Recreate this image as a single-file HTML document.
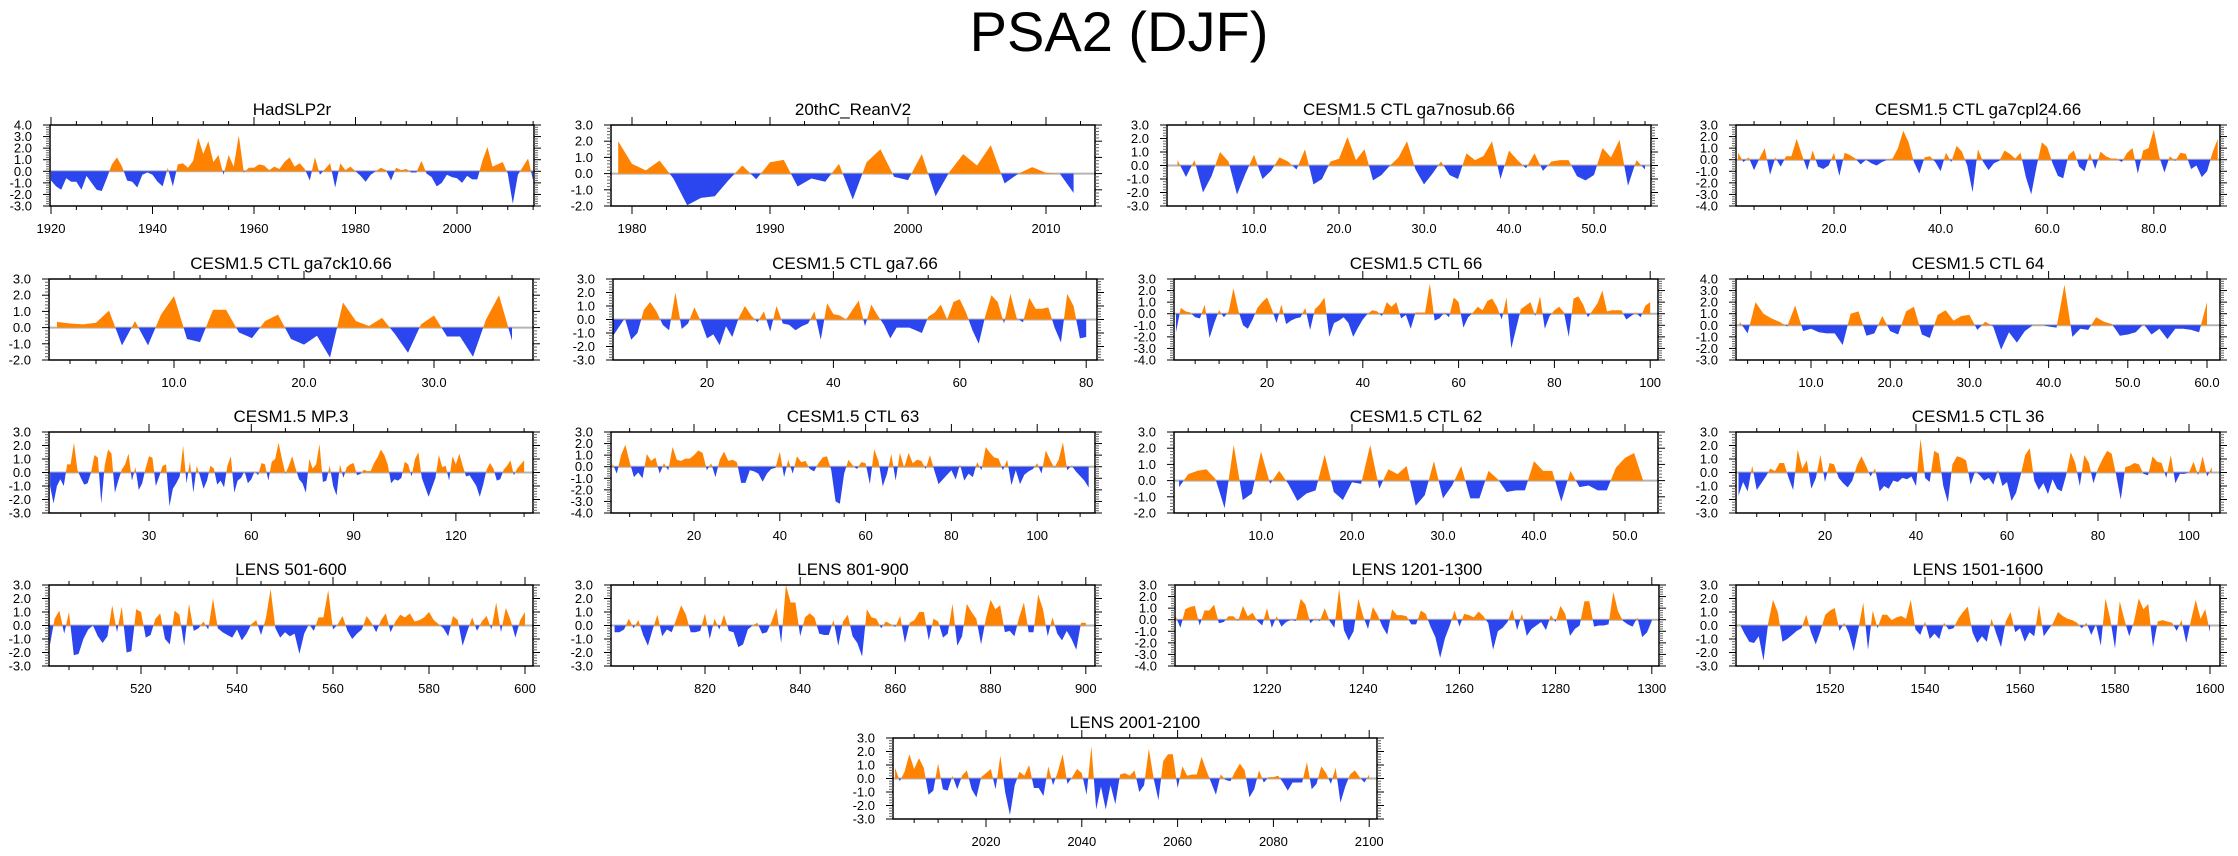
<!DOCTYPE html>
<html>
<head>
<meta charset="utf-8">
<style>
html,body{margin:0;padding:0;background:#fff;}
svg{display:block;font-family:"Liberation Sans",Arial,sans-serif;}
</style>
</head>
<body>
<svg id="chart" width="2238" height="856" viewBox="0 0 2238 856" xmlns="http://www.w3.org/2000/svg">
<rect x="0" y="0" width="2238" height="856" fill="#ffffff"/>
<text x="1119" y="51" text-anchor="middle" font-size="56" fill="#000">PSA2 (DJF)</text>
</svg>
<script>
// ---- data arrays ----
const hadslp2rStart = 1920;
const hadslp2rVals = [-0.8,-1.3,-1.6,-0.6,-0.9,-0.9,-1.6,-0.4,-1.0,-1.6,-1.7,-0.6,0.6,1.2,0.4,-0.8,-0.9,-1.4,-0.3,-0.1,-0.3,-0.9,-1.3,0.3,-1.3,0.6,0.7,0.3,0.9,2.9,1.5,2.6,0.8,1.4,-0.3,1.4,0.4,3.1,-0.1,0.3,0.3,0.6,0.5,0.1,0.4,0.2,0.8,1.2,0.4,0.7,0.2,-0.8,1.2,-0.3,0.2,0.7,-1.4,0.7,0.1,0.4,0.0,-0.4,-0.9,-0.3,0.0,0.3,0.1,-0.8,0.3,0.1,0.2,-0.1,-0.1,0.9,-0.2,-0.5,-1.3,-1.0,-0.3,-0.5,-0.6,-1.0,-0.4,-0.7,-0.7,0.9,2.1,0.4,0.6,0.8,-0.2,-2.8,-0.3,0.4,1.1,-0.8];
const reanv2Start = 1979;
const reanv2Vals = [2.0,0.6,0.2,0.8,-0.3,-1.95,-1.5,-1.4,-0.4,0.5,-0.35,0.7,0.85,-0.8,-0.3,-0.5,0.6,-1.6,0.7,1.5,-0.2,-0.4,1.2,-1.4,0.1,1.2,0.5,1.75,-0.6,0.0,0.4,0.05,0.0,-1.2];
const nosubStart = 1;
const nosubVals = [0.4,-0.85,0.4,-2.0,-0.8,1.0,0.3,-2.15,-0.6,0.8,-1.0,-0.4,0.6,0.3,-0.3,1.2,-1.4,-1.0,0.3,0.5,2.1,0.4,1.2,-1.1,-0.7,0.0,0.6,1.8,-0.3,-1.4,-0.6,0.3,-0.7,-1.0,0.9,0.4,0.7,1.8,-1.0,1.1,0.4,-0.2,0.9,-0.4,0.3,0.4,0.4,-0.8,-1.1,-0.7,1.3,0.6,1.9,-1.5,0.4,-0.3];
const cpl24Start = 2;
const cpl24Vals = [0.6,-0.2,0.2,-0.9,0.1,1.0,-1.3,0.2,-0.6,0.3,0.3,1.8,0.4,-0.9,0.8,-0.6,-0.8,-0.5,0.6,-1.4,0.6,0.4,0.1,-0.4,0.0,-0.3,-0.5,-0.2,0.0,0.1,1.0,2.5,1.5,-0.2,-1.2,0.2,0.3,-0.2,-1.0,0.6,-0.2,1.2,0.7,-0.5,-2.8,0.9,-0.2,-0.9,-0.3,-0.1,0.8,0.5,0.1,0.6,-1.5,-3.0,-0.6,1.5,1.1,-0.3,-1.4,-1.6,0.4,0.8,-0.6,-1.0,0.6,-0.8,0.7,0.3,0.1,0.1,-0.2,0.6,1.0,-1.2,0.8,1.0,2.6,0.3,-1.1,0.3,-0.1,0.6,0.5,-0.8,-0.5,-1.5,-1.0,0.6,1.8];
const ck10Start = 1;
const ck10Vals = [0.35,0.25,0.2,0.3,1.05,-1.1,0.4,-1.1,0.8,1.95,-0.7,-0.9,1.1,1.1,-0.3,-0.65,0.4,0.8,-0.7,-1.05,-0.5,-1.85,1.55,0.4,0.1,0.6,-0.4,-1.55,0.2,0.75,-0.55,-0.55,-1.8,0.5,2.0,-0.8];
const ga7Start = 5;
const ga7Vals = [-1.3,-0.6,0.1,-1.5,-1.0,0.7,1.3,0.6,-0.4,-0.8,2.0,-0.7,-0.3,0.9,-0.1,-1.4,-1.1,-1.9,-0.5,-1.3,0.1,1.0,0.3,-0.2,0.6,-0.9,1.0,-0.3,-0.4,-0.8,-0.5,-0.3,0.6,-1.5,1.2,0.4,0.3,0.0,0.7,1.4,-0.5,1.1,0.3,-0.4,-1.4,-0.6,-0.6,-0.6,-0.8,-1.0,0.2,0.5,1.1,0.0,1.3,1.5,0.5,-0.8,-1.8,0.2,1.8,1.3,-0.3,1.9,0.1,-0.2,1.6,0.8,0.8,0.9,-0.6,-1.7,1.9,1.0,-1.4,-1.3];
const ctl66Start = 1;
const ctl66Vals = [-1.6,0.5,0.2,0.1,-0.3,-0.4,0.8,-2.1,-0.8,0.3,-0.3,0.2,2.2,0.3,-1.0,-1.3,-0.5,0.5,1.0,1.4,0.4,-0.8,0.8,-0.9,-0.6,-0.4,-0.3,0.5,-1.4,0.4,0.8,1.4,-2.0,-0.8,-0.6,-0.3,-0.8,-2.0,-1.2,-0.5,0.0,0.3,0.2,-0.2,1.0,0.6,1.0,-0.4,-0.1,-1.3,0.1,0.1,0.1,2.6,-0.6,-0.4,0.1,-0.3,1.4,1.0,-1.2,-0.3,0.1,0.6,0.3,1.1,1.3,0.6,-0.5,1.4,-3.0,-1.3,0.4,0.7,1.0,-0.2,1.5,-1.3,-0.2,0.3,0.6,0.1,-2.0,1.3,1.5,0.8,-0.3,0.3,0.9,2.0,0.2,0.3,0.3,0.3,-0.5,-0.2,0.1,-0.3,0.7,1.0];
const ctl64Start = 1;
const ctl64Vals = [0.3,-0.7,2.0,1.0,0.6,0.3,-0.1,1.7,-0.5,-0.3,-0.6,-0.7,-0.7,-1.7,1.0,1.2,-0.9,-0.7,0.8,-0.5,-0.8,1.2,1.6,-0.8,-1.1,0.9,1.3,0.4,0.8,0.9,-0.4,0.3,-0.1,-2.1,-0.6,-1.5,-0.5,0.0,0.05,-0.1,-0.2,3.5,-1.0,-0.3,-0.4,0.7,0.3,0.1,-0.9,-0.8,-0.6,0.1,-0.8,-0.3,-1.2,-0.3,-0.3,-0.4,-0.6,2.0];
const mp3Start = 1;
const mp3Vals = [-1.0,-2.3,-1.0,-0.5,-1.0,0.6,0.6,2.2,0.2,-0.4,-0.9,-0.8,0.0,1.3,1.1,-2.3,0.5,1.7,1.4,-1.5,-0.6,0.2,0.6,1.4,-0.6,0.4,-1.3,-0.8,0.3,1.2,1.1,-1.0,-0.3,0.5,0.6,-2.5,-1.2,-0.8,-0.3,2.0,-0.8,0.8,-1.5,0.5,-0.3,-1.2,-0.6,0.5,0.3,-0.9,-0.6,-1.1,0.5,1.2,-1.5,-0.6,-0.4,0.1,-0.8,-0.5,0.1,-0.2,0.7,0.6,-0.6,0.8,1.0,2.2,1.0,-0.1,0.5,1.2,0.3,-0.5,-0.8,-1.5,1.0,0.3,0.6,2.1,-0.7,-0.6,0.5,-1.0,-1.7,0.6,-0.4,0.4,0.6,0.7,-0.2,-0.1,0.2,0.1,0.1,0.7,1.1,1.7,1.3,0.6,-0.8,-0.5,-0.6,-0.4,0.8,0.6,-0.3,1.0,1.5,-0.4,-1.1,-1.8,-1.1,-0.4,1.3,0.4,0.5,-0.6,1.2,0.6,1.4,0.5,-0.3,-0.2,-0.6,-1.0,-1.8,-0.9,0.2,0.7,0.3,-0.6,-0.5,0.2,0.5,0.9,-0.2,0.3,0.6,0.9];
const ctl63Start = 1;
const ctl63Vals = [0.3,-0.6,1.0,1.9,0.4,-0.9,-0.5,-1.0,1.1,0.5,0.8,-0.6,0.3,-0.3,1.7,0.6,0.5,0.7,0.7,1.0,1.4,1.2,-0.3,0.3,-0.9,0.6,1.3,0.5,0.6,0.4,-1.4,-1.4,-0.3,-0.4,-0.6,-1.3,-0.6,-0.2,-0.1,1.3,-0.9,0.6,-0.6,0.9,0.4,0.5,-0.2,-0.4,0.3,0.8,0.9,-0.3,-3.0,-3.2,-0.6,0.6,0.1,-0.2,0.4,0.3,-1.5,1.5,0.5,-1.7,-0.6,1.1,-1.2,1.2,-0.1,1.2,0.3,0.6,0.5,-0.2,1.0,-0.3,-1.5,-1.1,-0.7,-0.3,-1.1,0.2,-1.2,-0.6,-0.9,0.4,-0.3,1.7,1.2,0.8,0.7,-0.3,0.6,-1.6,-0.3,-1.5,-0.7,-0.4,-0.2,0.3,-0.6,1.4,0.6,-0.1,0.6,2.1,-0.3,0.1,-0.4,-0.8,-1.2,-1.8];
const ctl62Start = 1;
const ctl62Vals = [-0.4,0.4,0.6,0.7,0.1,-1.7,2.2,-1.2,-0.8,1.8,-0.2,0.6,-0.2,-1.25,-0.8,-0.6,1.6,-0.7,-1.2,-0.1,-0.2,2.2,-0.5,0.7,0.4,0.9,-1.55,-0.9,1.2,-1.1,-0.3,0.9,-1.1,-1.1,0.6,0.1,-0.7,-0.6,-0.6,1.2,0.6,0.6,-1.3,0.6,-0.4,-0.3,-0.6,-0.6,0.8,1.4,1.7,0.0];
const ctl36Start = 1;
const ctl36Vals = [-1.7,-0.7,-1.4,0.5,-1.3,-0.8,-0.3,0.3,0.1,0.7,0.7,-0.4,-1.3,1.7,0.3,0.9,-1.2,-0.4,1.3,-0.7,0.7,0.6,-0.4,-0.8,-1.1,-0.6,0.5,1.2,0.5,-0.3,0.3,-1.4,-1.0,-1.2,-0.6,-0.7,-0.4,-0.5,-0.3,-1.0,2.5,-0.4,-0.7,1.6,1.4,-1.0,-2.2,0.6,1.2,1.1,0.9,-0.9,0.1,-0.2,-0.6,-0.4,-0.9,0.2,-1.0,-0.7,-2.1,-1.5,-0.2,1.3,1.8,-0.6,-1.3,-0.8,-1.6,-0.5,-1.2,-1.4,-0.2,1.5,0.7,-1.0,1.3,0.7,-0.8,0.3,1.0,1.6,1.4,-0.2,-2.0,0.4,0.5,0.7,0.6,-0.1,-0.2,1.2,0.8,0.7,-0.4,1.3,-0.8,-0.1,-0.1,0.0,0.8,-0.2,1.2,-0.3,0.4];
const lens501Start = 501;
const lens501Vals = [-1.5,0.5,1.1,-0.6,1.0,-2.2,-2.1,-1.0,-0.3,0.0,-0.8,-1.3,-0.8,1.5,-0.5,1.4,-2.0,-1.9,1.2,1.0,-0.9,-0.7,0.5,0.9,-1.0,-1.4,1.1,0.8,-1.5,1.6,-0.4,-0.2,0.3,-0.3,2.0,-0.2,-0.5,-0.7,-0.9,-0.3,-1.1,-0.6,0.1,0.4,-0.7,0.5,2.7,-0.2,-0.9,-0.5,-0.8,-0.6,-2.1,-0.6,0.1,-0.4,0.6,0.6,2.6,-0.3,0.1,0.7,-0.4,-1.0,-0.6,-0.3,0.7,0.2,-0.5,0.4,0.9,-0.5,0.3,0.8,0.6,0.9,0.3,0.4,0.6,1.0,0.4,0.1,-0.2,-0.8,0.7,0.4,-1.5,-0.4,0.6,-0.4,0.3,0.7,-0.3,1.7,-0.5,1.3,0.4,-0.9,0.4,1.0];
const lens801Start = 801;
const lens801Vals = [-0.5,-0.5,-0.3,0.5,-0.2,0.4,-0.7,-1.5,-0.3,0.8,-0.8,-0.3,-0.5,0.5,1.5,0.8,-0.5,-0.5,-0.4,0.9,-1.0,0.5,-0.3,0.8,-0.4,-0.5,-1.6,-1.4,-0.3,0.0,0.2,-0.6,-0.5,0.3,1.3,-1.3,3.0,1.7,1.7,-0.8,0.6,0.9,0.6,-0.6,-0.7,-0.7,0.4,-1.5,0.3,0.8,-0.8,-1.3,-2.3,1.2,0.6,0.5,-0.2,0.3,0.1,-0.1,0.7,-1.3,0.2,0.4,1.0,1.0,-1.1,0.5,0.3,-0.9,-0.6,1.6,-1.5,-0.8,1.6,1.0,0.5,-1.4,0.5,1.9,1.2,1.5,-0.5,-0.4,-0.8,0.6,1.7,-0.5,-0.5,2.3,1.2,-0.8,0.6,-0.6,-1.1,-0.4,-1.0,-1.8,0.2,0.2];
const lens1201Start = 1201;
const lens1201Vals = [0.3,-0.7,0.9,1.1,1.2,-0.5,0.8,0.8,1.3,-0.3,-0.2,0.3,0.3,-0.1,1.2,0.3,0.6,-0.1,-0.5,1.0,-0.7,0.3,-0.6,-0.2,0.0,-0.1,1.8,1.3,-0.3,0.1,-0.1,1.0,-0.1,-0.7,2.7,-0.9,-1.8,-1.0,1.8,0.3,-0.8,1.1,0.4,-0.6,-1.3,0.9,0.4,0.4,0.3,-0.4,-0.4,0.8,0.5,-0.6,-1.5,-3.3,-1.6,-0.5,0.8,-0.6,0.5,0.4,0.2,0.7,0.3,-0.3,-2.6,-1.0,-0.7,-0.2,0.9,-0.9,0.5,-1.4,-0.8,-0.5,-0.2,-0.9,0.4,-0.2,1.2,0.5,-1.4,-0.8,-0.5,1.6,1.6,-0.6,-0.5,-0.5,-0.4,2.4,0.7,-0.1,-0.4,-0.6,0.2,-1.5,-1.1,-0.1];
const lens1501Start = 1501;
const lens1501Vals = [0.1,-0.6,-1.2,-1.3,-0.8,-2.6,0.2,1.9,1.0,-1.2,-1.0,-0.7,-0.4,-0.2,0.8,-0.5,-1.4,-0.4,0.8,1.1,1.3,-0.4,0.2,-0.6,-1.9,-0.2,1.7,-1.8,1.1,-0.2,0.8,0.8,0.4,0.6,0.7,0.5,1.9,-0.3,-0.7,0.3,-1.0,-0.6,-1.0,0.2,-0.3,-0.2,0.5,1.0,1.4,-0.5,-1.3,-0.8,-1.2,0.5,-0.6,-1.6,0.3,1.0,-0.5,-0.2,-1.2,-0.5,-0.8,1.5,-0.8,-0.3,0.2,1.0,0.7,0.5,0.4,0.2,-0.2,0.2,-0.7,0.1,-1.5,2.0,0.5,-1.7,1.8,0.4,-0.8,0.3,2.0,1.2,1.6,-1.6,0.3,0.4,0.3,0.2,-0.4,0.4,-1.3,0.4,1.9,0.5,1.2,-0.5];
const lens2001Start = 2001;
const lens2001Vals = [0.8,-0.2,0.5,1.8,0.7,1.5,0.8,-1.2,-0.9,1.1,-0.8,-0.9,0.2,-0.8,0.2,0.6,-0.8,-1.4,0.1,0.4,0.7,-0.8,1.7,-1.0,-2.7,-0.5,0.5,0.2,1.0,-0.7,-0.7,-1.3,0.9,-0.5,0.5,1.8,-0.4,0.1,0.7,0.4,-1.2,2.4,-2.3,-0.6,-2.3,-0.5,-1.9,0.3,0.4,0.2,0.6,-1.0,-0.5,2.2,0.0,-1.6,1.3,1.8,1.8,-0.7,0.9,0.2,0.3,0.3,1.6,0.6,-0.3,-1.2,0.3,-0.1,-0.2,0.5,1.1,0.6,-1.4,-0.8,0.6,-0.3,0.1,0.1,0.2,-0.3,-0.9,-0.3,-0.3,-0.3,1.2,-0.8,-0.4,0.9,0.4,-0.4,0.8,-1.8,-0.6,0.3,0.6,0.1,-0.3,0.3];

// ---- panel layout (axis parameters, not data) ----
const W = 484, H = 81;
const panels = [
 {title:'HadSLP2r', vals:hadslp2rVals, start:hadslp2rStart, left:50, top:125, ymin:-3, ymax:4, t0:1920, px0:51, ppu:5.075, major:20, minor:5, dec:0},
 {title:'20thC_ReanV2', vals:reanv2Vals, start:reanv2Start, left:611, top:125, ymin:-2, ymax:3, t0:1980, px0:632, ppu:13.8, major:10, minor:2.5, dec:0},
 {title:'CESM1.5 CTL ga7nosub.66', vals:nosubVals, start:nosubStart, left:1167, top:125, ymin:-3, ymax:3, t0:10, px0:1254, ppu:8.5, major:10, minor:2, dec:1},
 {title:'CESM1.5 CTL ga7cpl24.66', vals:cpl24Vals, start:cpl24Start, left:1736, top:125, ymin:-4, ymax:3, t0:20, px0:1834, ppu:5.33, major:20, minor:5, dec:1},
 {title:'CESM1.5 CTL ga7ck10.66', vals:ck10Vals, start:ck10Start, left:49, top:279, ymin:-2, ymax:3, t0:10, px0:174, ppu:13.0, major:10, minor:2, dec:1},
 {title:'CESM1.5 CTL ga7.66', vals:ga7Vals, start:ga7Start, left:613, top:279, ymin:-3, ymax:3, t0:20, px0:707, ppu:6.32, major:20, minor:5, dec:0},
 {title:'CESM1.5 CTL 66', vals:ctl66Vals, start:ctl66Start, left:1174, top:279, ymin:-4, ymax:3, t0:20, px0:1267, ppu:4.79, major:20, minor:5, dec:0},
 {title:'CESM1.5 CTL 64', vals:ctl64Vals, start:ctl64Start, left:1736, top:279, ymin:-3, ymax:4, t0:10, px0:1811, ppu:7.92, major:10, minor:2, dec:1},
 {title:'CESM1.5 MP.3', vals:mp3Vals, start:mp3Start, left:49, top:432, ymin:-3, ymax:3, t0:30, px0:149, ppu:3.41, major:30, minor:10, dec:0},
 {title:'CESM1.5 CTL 63', vals:ctl63Vals, start:ctl63Start, left:611, top:432, ymin:-4, ymax:3, t0:20, px0:694, ppu:4.29, major:20, minor:5, dec:0},
 {title:'CESM1.5 CTL 62', vals:ctl62Vals, start:ctl62Start, left:1174, top:432, ymin:-2, ymax:3, t0:10, px0:1261, ppu:9.1, major:10, minor:2, dec:1},
 {title:'CESM1.5 CTL 36', vals:ctl36Vals, start:ctl36Start, left:1736, top:432, ymin:-3, ymax:3, t0:20, px0:1825, ppu:4.55, major:20, minor:5, dec:0},
 {title:'LENS 501-600', vals:lens501Vals, start:lens501Start, left:49, top:585, ymin:-3, ymax:3, t0:520, px0:141, ppu:4.8, major:20, minor:5, dec:0},
 {title:'LENS 801-900', vals:lens801Vals, start:lens801Start, left:611, top:585, ymin:-3, ymax:3, t0:820, px0:705, ppu:4.76, major:20, minor:5, dec:0},
 {title:'LENS 1201-1300', vals:lens1201Vals, start:lens1201Start, left:1175, top:585, ymin:-4, ymax:3, t0:1220, px0:1267, ppu:4.81, major:20, minor:5, dec:0},
 {title:'LENS 1501-1600', vals:lens1501Vals, start:lens1501Start, left:1736, top:585, ymin:-3, ymax:3, t0:1520, px0:1830, ppu:4.75, major:20, minor:5, dec:0},
 {title:'LENS 2001-2100', vals:lens2001Vals, start:lens2001Start, left:893, top:738, ymin:-3, ymax:3, t0:2020, px0:986, ppu:4.79, major:20, minor:5, dec:0}
];

const NS = 'http://www.w3.org/2000/svg';
const svg = document.getElementById('chart');
const ORANGE = '#ff8200', BLUE = '#2b45ef';

function mk(parent, tag, attrs){
  const el = document.createElementNS(NS, tag);
  for (const k in attrs) el.setAttribute(k, attrs[k]);
  parent.appendChild(el);
  return el;
}
function slug(s){ return s.toLowerCase().replace(/[^a-z0-9]+/g,'-').replace(/^-|-$/g,''); }

const defs = mk(svg, 'defs', {});

panels.forEach((p, idx) => {
  const xmin = p.t0 - (p.px0 - p.left) / p.ppu;
  const xmax = xmin + W / p.ppu;
  const X = v => p.left + (v - xmin) * p.ppu;
  const Y = v => p.top + (p.ymax - v) / (p.ymax - p.ymin) * H;
  const right = p.left + W, bottom = p.top + H;
  const name = slug(p.title);

  const g = mk(svg, 'g', {});
  
  

  const cp = mk(defs, 'clipPath', {id: 'clip' + idx});
  mk(cp, 'rect', {x: p.left, y: p.top, width: W, height: H});

  const zl = mk(g, 'line', {x1: p.left, x2: right, y1: Y(0), y2: Y(0), stroke: '#b4b4b4', 'stroke-width': 2});
  
  

  const pos = [], neg = [];
  p.vals.forEach((v, k) => {
    const x = p.start + k;
    if (k > 0) {
      const vp = p.vals[k - 1];
      if ((vp > 0 && v < 0) || (vp < 0 && v > 0)) {
        const xc = (x - 1) + (0 - vp) / (v - vp);
        pos.push([xc, 0]); neg.push([xc, 0]);
      }
    }
    pos.push([x, Math.max(v, 0)]);
    neg.push([x, Math.min(v, 0)]);
  });
  const x0 = p.start, x1 = p.start + p.vals.length - 1;
  const toPath = arr => 'M' + X(x0).toFixed(2) + ',' + Y(0).toFixed(2) + ' ' +
    arr.map(q => 'L' + X(q[0]).toFixed(2) + ',' + Y(q[1]).toFixed(2)).join(' ') +
    ' L' + X(x1).toFixed(2) + ',' + Y(0).toFixed(2) + ' Z';
  const fg = mk(g, 'g', {'clip-path': 'url(#clip' + idx + ')'});
  
  
  const pa = mk(fg, 'path', {d: toPath(pos), fill: ORANGE});
  
  
  const na = mk(fg, 'path', {d: toPath(neg), fill: BLUE});
  
  

  const fr = mk(g, 'rect', {x: p.left, y: p.top, width: W, height: H, fill: 'none', stroke: '#000', 'stroke-width': 1.5});
  
  

  const kmin = Math.round(p.ymin * 5), kmax = Math.round(p.ymax * 5);
  for (let k = kmin; k <= kmax; k++) {
    const v = k / 5, y = Y(v), maj = (k % 5 === 0);
    const len = maj ? 7 : 4;
    const t1 = mk(g, 'line', {x1: p.left - len, x2: p.left, y1: y, y2: y, stroke: maj ? '#000' : '#666', 'stroke-width': 1});
    
    
    const t2 = mk(g, 'line', {x1: right, x2: right + len, y1: y, y2: y, stroke: maj ? '#000' : '#666', 'stroke-width': 1});
    
    
    if (maj) {
      const lb = mk(g, 'text', {x: p.left - 18, y: y + 4.5, 'text-anchor': 'end', 'font-size': 13, fill: '#000'});
      lb.textContent = v.toFixed(1);
      
      
    }
  }

  const mstart = Math.ceil((xmin + 1e-6) / p.minor), mend = Math.floor((xmax - 1e-6) / p.minor);
  for (let m = mstart; m <= mend; m++) {
    const v = +(m * p.minor).toFixed(4);
    if (Math.abs(v) < 1e-9) continue;
    const x = X(v);
    const maj = Math.abs(v / p.major - Math.round(v / p.major)) < 1e-6;
    const len = maj ? 8 : 4;
    const tt = mk(g, 'line', {x1: x, x2: x, y1: p.top - len, y2: p.top, stroke: '#000', 'stroke-width': 1});
    
    
    const tb = mk(g, 'line', {x1: x, x2: x, y1: bottom, y2: bottom + len, stroke: '#000', 'stroke-width': 1});
    
    
    if (maj) {
      const lb = mk(g, 'text', {x: x, y: bottom + 27, 'text-anchor': 'middle', 'font-size': 13, fill: '#000'});
      lb.textContent = p.dec ? v.toFixed(1) : String(Math.round(v));
      
      
    }
  }

  const tt = mk(g, 'text', {x: p.left + W / 2, y: p.top - 10, 'text-anchor': 'middle', 'font-size': 17, fill: '#000'});
  tt.textContent = p.title;
  
  
});
</script>
</body>
</html>
